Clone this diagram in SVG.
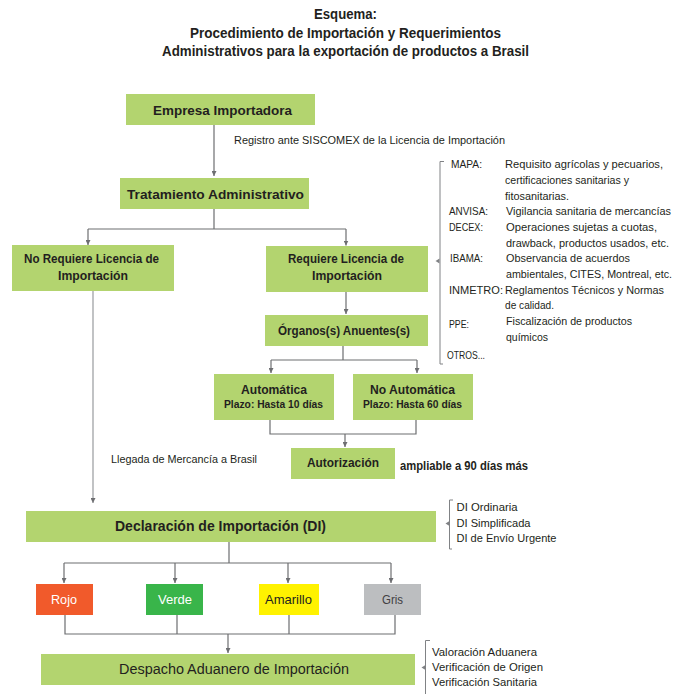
<svg xmlns="http://www.w3.org/2000/svg" width="675" height="694" viewBox="0 0 675 694">
<defs>
<marker id="ah" markerUnits="userSpaceOnUse" markerWidth="6" markerHeight="5" refX="5" refY="2.5" orient="auto">
<path d="M0,0 L5,2.5 L0,5 Z" fill="#6d6e71"/>
</marker>
<style>
.box{fill:#b3d46f}
.hb{font-family:"Liberation Sans Narrow","Liberation Sans",Arial,sans-serif;font-weight:bold;fill:#231f20}
.rg{font-family:"Liberation Sans Narrow","Liberation Sans",Arial,sans-serif;fill:#231f20}
.ln{fill:none;stroke:#6d6e71;stroke-width:1.2}
.lt{fill:none;stroke:#a7a9ac;stroke-width:1.4}
.br{fill:none;stroke:#808285;stroke-width:1}
.tk{fill:#808285}
</style>
</defs>
<rect width="675" height="694" fill="#ffffff"/>

<g id="title" text-anchor="middle" class="hb" font-size="14">
<text x="345.5" y="19" textLength="63" lengthAdjust="spacingAndGlyphs">Esquema:</text>
<text x="345.5" y="37.5" textLength="311" lengthAdjust="spacingAndGlyphs">Procedimiento de Importación y Requerimientos</text>
<text x="345.5" y="55.5" textLength="367" lengthAdjust="spacingAndGlyphs">Administrativos para la exportación de productos a Brasil</text>
</g>

<g id="connectors">
<path class="ln" d="M214 125 V176" marker-end="url(#ah)"/>
<path class="ln" d="M214 209 V229 M88 229 H346"/>
<path class="ln" d="M88 229 V245" marker-end="url(#ah)"/>
<path class="ln" d="M346 229 V245.5" marker-end="url(#ah)"/>
<path class="ln" d="M346 292 V314" marker-end="url(#ah)"/>
<path class="ln" d="M343 346 V360 M271 360 H417"/>
<path class="ln" d="M271 360 V373" marker-end="url(#ah)"/>
<path class="ln" d="M417 360 V373" marker-end="url(#ah)"/>
<path class="ln" d="M270 420 V434 H416 V420"/>
<path class="ln" d="M345 434 V447" marker-end="url(#ah)"/>
<path class="lt" d="M93 291 V503" marker-end="url(#ah)"/>
<path class="ln" d="M229 542 V563 M64 563 H391"/>
<path class="ln" d="M64 563 V583" marker-end="url(#ah)"/>
<path class="ln" d="M175 563 V583" marker-end="url(#ah)"/>
<path class="ln" d="M288 563 V583" marker-end="url(#ah)"/>
<path class="ln" d="M391 563 V583" marker-end="url(#ah)"/>
<path class="ln" d="M65 615 V634 H395 V615 M177 615 V634 M289 615 V634"/>
<path class="ln" d="M228 634 V653" marker-end="url(#ah)"/>
</g>

<g id="registro">
<text class="rg" x="234" y="144" font-size="11" textLength="271" lengthAdjust="spacingAndGlyphs">Registro ante SISCOMEX de la Licencia de Importación</text>
</g>
<g id="llegada">
<text class="rg" x="111" y="463" font-size="11.5" textLength="146" lengthAdjust="spacingAndGlyphs">Llegada de Mercancía a Brasil</text>
</g>

<g id="empresa">
<rect class="box" x="126" y="94" width="189" height="31"/>
<text class="hb" x="153" y="115" font-size="13.5" textLength="139" lengthAdjust="spacingAndGlyphs">Empresa Importadora</text>
</g>
<g id="tratamiento">
<rect class="box" x="120" y="178" width="189" height="31"/>
<text class="hb" x="127" y="198.5" font-size="13.5" textLength="177" lengthAdjust="spacingAndGlyphs">Tratamiento Administrativo</text>
</g>
<g id="no-requiere">
<rect class="box" x="12" y="245" width="162" height="46"/>
<text class="hb" x="24" y="263" font-size="13" textLength="135" lengthAdjust="spacingAndGlyphs">No Requiere Licencia de</text>
<text class="hb" x="58" y="280" font-size="13" textLength="70" lengthAdjust="spacingAndGlyphs">Importación</text>
</g>
<g id="requiere">
<rect class="box" x="266" y="246" width="162" height="46"/>
<text class="hb" x="288" y="263" font-size="13" textLength="116" lengthAdjust="spacingAndGlyphs">Requiere Licencia de</text>
<text class="hb" x="312" y="280" font-size="13" textLength="70" lengthAdjust="spacingAndGlyphs">Importación</text>
</g>
<g id="organos">
<rect class="box" x="265" y="315" width="163" height="31"/>
<text class="hb" x="278" y="335" font-size="13" textLength="132" lengthAdjust="spacingAndGlyphs">Órganos(s) Anuentes(s)</text>
</g>
<g id="automatica">
<rect class="box" x="214" y="374" width="120" height="46"/>
<text class="hb" x="241" y="394" font-size="13" textLength="66" lengthAdjust="spacingAndGlyphs">Automática</text>
<text class="hb" x="224" y="407.5" font-size="11" textLength="99" lengthAdjust="spacingAndGlyphs">Plazo: Hasta 10 días</text>
</g>
<g id="no-automatica">
<rect class="box" x="353" y="374" width="120" height="46"/>
<text class="hb" x="370" y="394" font-size="13" textLength="85" lengthAdjust="spacingAndGlyphs">No Automática</text>
<text class="hb" x="363" y="407.5" font-size="11" textLength="99" lengthAdjust="spacingAndGlyphs">Plazo: Hasta 60 días</text>
</g>
<g id="autorizacion">
<rect class="box" x="291" y="448" width="104" height="31"/>
<text class="hb" x="307" y="467" font-size="13" textLength="72" lengthAdjust="spacingAndGlyphs">Autorización</text>
<text class="hb" x="400" y="469.5" font-size="12" textLength="128" lengthAdjust="spacingAndGlyphs">ampliable a 90 días más</text>
</g>
<g id="declaracion">
<rect class="box" x="26" y="511" width="410" height="31"/>
<text class="hb" x="115" y="530.5" font-size="15" textLength="211" lengthAdjust="spacingAndGlyphs">Declaración de Importación (DI)</text>
</g>
<g id="rojo">
<rect x="36" y="584" width="57" height="31" fill="#f15a2b"/>
<text class="rg" x="51" y="603.5" font-size="13" style="fill:#ffffff" textLength="26" lengthAdjust="spacingAndGlyphs">Rojo</text>
</g>
<g id="verde">
<rect x="146" y="584" width="57" height="31" fill="#39b54a"/>
<text class="rg" x="158" y="603.5" font-size="13" style="fill:#ffffff" textLength="34" lengthAdjust="spacingAndGlyphs">Verde</text>
</g>
<g id="amarillo">
<rect x="259" y="584" width="60" height="31" fill="#fff200"/>
<text class="rg" x="265" y="603.5" font-size="13" textLength="47" lengthAdjust="spacingAndGlyphs">Amarillo</text>
</g>
<g id="gris">
<rect x="364" y="584" width="57" height="31" fill="#bcbec0"/>
<text class="rg" x="382" y="603.5" font-size="13" style="fill:#414042" textLength="21" lengthAdjust="spacingAndGlyphs">Gris</text>
</g>
<g id="despacho">
<rect class="box" x="41" y="654" width="374" height="31"/>
<text class="rg" x="119" y="673.5" font-size="15.5" textLength="230" lengthAdjust="spacingAndGlyphs">Despacho Aduanero de Importación</text>
</g>

<g id="organismos">
<path class="br" d="M444 161.5 H440 V364 H443"/>
<path class="tk" d="M435.5 261 L439.5 258.5 L439.5 263.5 Z"/>
<g class="rg" font-size="10.5">
<text x="451" y="168" textLength="31" lengthAdjust="spacingAndGlyphs">MAPA:</text>
<text x="505" y="168" textLength="158" lengthAdjust="spacingAndGlyphs">Requisito agrícolas y pecuarios,</text>
<text x="505" y="184" textLength="124" lengthAdjust="spacingAndGlyphs">certificaciones sanitarias y</text>
<text x="505" y="199.5" textLength="64" lengthAdjust="spacingAndGlyphs">fitosanitarias.</text>
<text x="449" y="215" textLength="39" lengthAdjust="spacingAndGlyphs">ANVISA:</text>
<text x="506" y="215" textLength="165" lengthAdjust="spacingAndGlyphs">Vigilancia sanitaria de mercancías</text>
<text x="449" y="231" textLength="34" lengthAdjust="spacingAndGlyphs">DECEX:</text>
<text x="506" y="231" textLength="151" lengthAdjust="spacingAndGlyphs">Operaciones sujetas a cuotas,</text>
<text x="506" y="246.5" textLength="163" lengthAdjust="spacingAndGlyphs">drawback, productos usados, etc.</text>
<text x="450" y="262" textLength="33" lengthAdjust="spacingAndGlyphs">IBAMA:</text>
<text x="506" y="262" textLength="124" lengthAdjust="spacingAndGlyphs">Observancia de acuerdos</text>
<text x="506" y="278" textLength="166" lengthAdjust="spacingAndGlyphs">ambientales, CITES, Montreal, etc.</text>
<text x="449" y="293.5" textLength="54" lengthAdjust="spacingAndGlyphs">INMETRO:</text>
<text x="505" y="293.5" textLength="159" lengthAdjust="spacingAndGlyphs">Reglamentos Técnicos y Normas</text>
<text x="505" y="309" textLength="49" lengthAdjust="spacingAndGlyphs">de calidad.</text>
<text x="449" y="328" textLength="20" lengthAdjust="spacingAndGlyphs">PPE:</text>
<text x="506" y="325" textLength="126" lengthAdjust="spacingAndGlyphs">Fiscalización de productos</text>
<text x="506" y="340.5" textLength="42" lengthAdjust="spacingAndGlyphs">químicos</text>
<text x="447" y="359" textLength="38" lengthAdjust="spacingAndGlyphs">OTROS...</text>
</g>
</g>

<g id="tipos-di">
<path class="br" d="M453 500 H449.5 V549 H452"/>
<path class="tk" d="M445.5 523.5 L449.5 521 L449.5 526 Z"/>
<g class="rg" font-size="11">
<text x="456.5" y="511" textLength="61" lengthAdjust="spacingAndGlyphs">DI Ordinaria</text>
<text x="456.5" y="526.5" textLength="74" lengthAdjust="spacingAndGlyphs">DI Simplificada</text>
<text x="456.5" y="542" textLength="100" lengthAdjust="spacingAndGlyphs">DI de Envío Urgente</text>
</g>
</g>

<g id="verificaciones">
<path class="br" d="M430 640.5 H425.5 V694"/>
<path class="tk" d="M421.5 667.5 L425.5 665 L425.5 670 Z"/>
<g class="rg" font-size="11">
<text x="432" y="655.5" textLength="105" lengthAdjust="spacingAndGlyphs">Valoración Aduanera</text>
<text x="432" y="670.5" textLength="111" lengthAdjust="spacingAndGlyphs">Verificación de Origen</text>
<text x="432" y="685.5" textLength="105" lengthAdjust="spacingAndGlyphs">Verificación Sanitaria</text>
</g>
</g>
</svg>
